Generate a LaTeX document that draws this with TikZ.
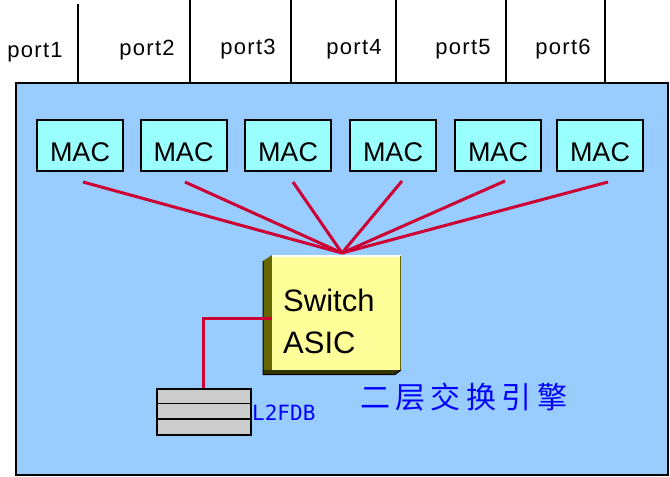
\documentclass[tikz,border=0pt]{standalone}
\usepackage{fontspec}
\setmainfont{Liberation Sans}
\newfontfamily\cjkfont{Noto Sans CJK SC}
\newfontfamily\monofont{DejaVu Sans Mono}
\newfontfamily\portfont[LetterSpace=6]{Liberation Sans}
\definecolor{bgblue}{HTML}{99CCFF}
\definecolor{macfill}{HTML}{99FFFF}
\definecolor{asicfill}{HTML}{FFFF99}
\definecolor{olive1}{HTML}{666600}
\definecolor{olive2}{HTML}{333300}
\definecolor{fanred}{HTML}{CC0033}
\definecolor{fdbgray}{HTML}{CCCCCC}
\definecolor{txtblue}{HTML}{0000FF}
\tikzset{
  macbox/.style={draw=black, line width=2pt, fill=macfill, minimum width=86pt, minimum height=51pt, inner sep=0pt},
  mactext/.style={font=\fontsize{27}{30}\selectfont, anchor=base, inner sep=0pt},
  porttext/.style={font=\portfont\fontsize{22}{24}\selectfont, anchor=base, inner sep=0pt},
  divider/.style={line width=2pt, black},
  fan/.style={line width=3pt, fanred},
  asictext/.style={font=\fontsize{31}{36}\selectfont, anchor=base west, inner sep=0pt},
}
\begin{document}
\begin{tikzpicture}[x=1pt,y=-1pt]
\useasboundingbox (0,0) rectangle (670,477);
\fill[white] (0,0) rectangle (670,477);
% main box
\node[draw=black, line width=2pt, fill=bgblue, minimum width=652pt, minimum height=392pt, inner sep=0pt, anchor=north west] (board) at (15,82) {};
% port dividers
\coordinate (d1t) at (78,4);   \coordinate (d1b) at (78,82);
\coordinate (d2t) at (190,0);  \coordinate (d2b) at (190,82);
\coordinate (d3t) at (291,0);  \coordinate (d3b) at (291,82);
\coordinate (d4t) at (396,0);  \coordinate (d4b) at (396,82);
\coordinate (d5t) at (506,0);  \coordinate (d5b) at (506,82);
\coordinate (d6t) at (605,0);  \coordinate (d6b) at (605,82);
\foreach \i in {1,...,6} \draw[divider] (d\i t) -- (d\i b);
% port labels
\node[porttext] (p1) at (35,57) {port1};
\node[porttext] (p2) at (147,55) {port2};
\node[porttext] (p3) at (248,54) {port3};
\node[porttext] (p4) at (354,54) {port4};
\node[porttext] (p5) at (463,54) {port5};
\node[porttext] (p6) at (563,54) {port6};
% MAC boxes
\node[macbox] (m1) at (80,145.5) {};
\node[macbox] (m2) at (183.5,145.5) {};
\node[macbox] (m3) at (288,145.5) {};
\node[macbox] (m4) at (393,145.5) {};
\node[macbox] (m5) at (498,145.5) {};
\node[macbox] (m6) at (600,145.5) {};
\node[mactext] (t1) at (80,161) {MAC};
\node[mactext] (t2) at (183.5,161) {MAC};
\node[mactext] (t3) at (288,161) {MAC};
\node[mactext] (t4) at (393,161) {MAC};
\node[mactext] (t5) at (498,161) {MAC};
\node[mactext] (t6) at (600,161) {MAC};
% fan start points and convergence
\coordinate (f1) at (83,182);
\coordinate (f2) at (185,182);
\coordinate (f3) at (293,182);
\coordinate (f4) at (402,181);
\coordinate (f5) at (505,181);
\coordinate (f6) at (608,182);
\coordinate (conv) at (342,253);
\foreach \i in {1,...,6} \draw[fan] (f\i) -- (conv);
% Switch ASIC 3D box
\fill[olive1] (263,261) -- (272,255) -- (272,374) -- (263,374) -- cycle;
\fill[olive2] (263,370) -- (401,370) -- (395,374.5) -- (263,374.5) -- cycle;
\draw[black, line width=1pt] (263,261) -- (263,374.5) -- (395,374.5) -- (401,370);
\node[fill=asicfill, minimum width=129pt, minimum height=115pt, inner sep=0pt, anchor=north west] (asic) at (272,255) {};
\draw[white, line width=1.5pt] (272,255.75) -- (401,255.75);
\draw[olive1, line width=1.5pt] (400.25,256) -- (400.25,370);
\node[asictext] (sw1) at (283,311) {Switch};
\node[asictext] (sw2) at (283,353) {ASIC};
% L2FDB table
\node[draw=black, line width=1.5pt, fill=fdbgray, minimum width=94pt, minimum height=46pt, inner sep=0pt, anchor=north west] (fdb) at (156,388) {};
\draw[black, line width=1.5pt] (156,403.5) -- (250,403.5);
\draw[black, line width=1.5pt] (156,419) -- (250,419);
\node[font=\monofont\fontsize{21}{22}\selectfont, text=txtblue, anchor=base west, inner sep=0pt] (fdblabel) at (252,420) {L2FDB};
% connection ASIC - FDB
\coordinate (bend) at (203,318);
\draw[fan] (asic.west |- bend) -- (bend) -- (bend |- fdb.north);
% Chinese label
\node[font=\cjkfont\fontsize{30}{32}\selectfont, text=txtblue, anchor=base west, inner sep=0pt] (engine) at (360,408) {\addfontfeature{LetterSpace=18}二层交换引擎};
\end{tikzpicture}
\end{document}
